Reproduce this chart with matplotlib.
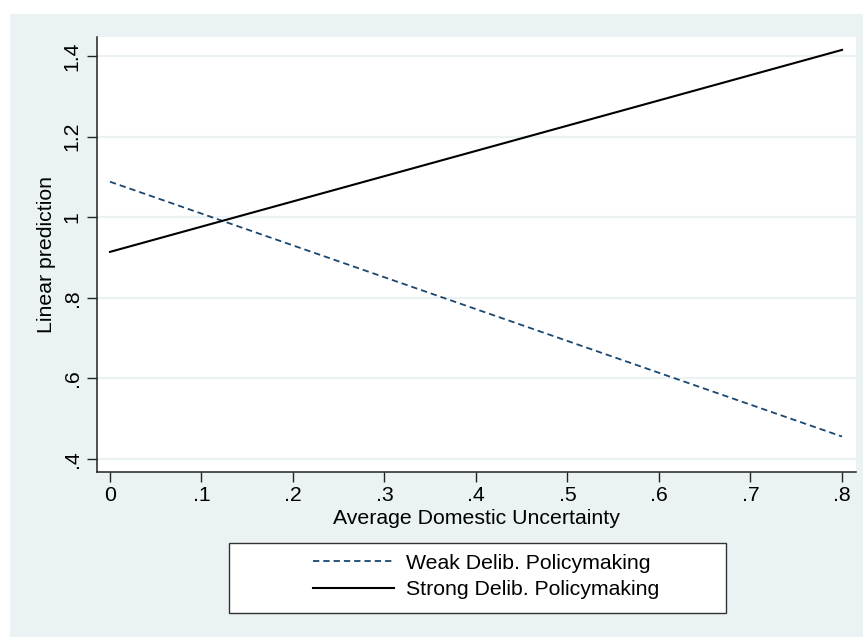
import matplotlib
matplotlib.use("Agg")
import matplotlib.pyplot as plt
from matplotlib.patches import Rectangle

plt.rcParams['font.family'] = ['Liberation Sans', 'DejaVu Sans']

# data (straight linear predictions)
x_vals = [0.0, 0.8]
weak_vals = [1.088, 0.456]
strong_vals = [0.914, 1.415]
series_labels = ["Weak Delib. Policymaking", "Strong Delib. Policymaking"]
x_ticks = [0, 0.1, 0.2, 0.3, 0.4, 0.5, 0.6, 0.7, 0.8]
x_ticklabels = ["0", ".1", ".2", ".3", ".4", ".5", ".6", ".7", ".8"]
y_ticks = [0.4, 0.6, 0.8, 1.0, 1.2, 1.4]
y_ticklabels = [".4", ".6", ".8", "1", "1.2", "1.4"]

bg = '#eaf2f3'
navy = '#1a476f'
fs = 15.3

fig = plt.figure(figsize=(8.63, 6.37), dpi=100)
fig.patch.set_facecolor('white')
# stata style outer region
fig.patches.append(Rectangle((10/863, 0), 853/863, 623/637, transform=fig.transFigure,
                             facecolor=bg, edgecolor='none', zorder=-10))

ax = fig.add_axes([97/863, 165/637, 759/863, 435/637])
ax.set_zorder(1)
ax.set_facecolor('white')

ax.plot(x_vals, weak_vals, color=navy, lw=1.3, dashes=(3.5, 2.2), label=series_labels[0])
ax.plot(x_vals, strong_vals, color='black', lw=1.5, label=series_labels[1])

ax.set_xlim(-0.0142, 0.8153)
ax.set_ylim(0.368, 1.447)
ax.set_xticks(x_ticks)
ax.set_xticklabels(x_ticklabels)
ax.set_yticks(y_ticks)
ax.set_yticklabels(y_ticklabels, rotation=90, va='center')
ax.tick_params(axis='both', labelsize=fs, length=7, width=1, color='#222222')
ax.tick_params(axis='x', pad=3)
ax.tick_params(axis='y', pad=4)

ax.grid(axis='y', color=bg, lw=1.6)
ax.set_axisbelow(True)
for s in ['top', 'right']:
    ax.spines[s].set_visible(False)
for s in ['left', 'bottom']:
    ax.spines[s].set_linewidth(1.1)
    ax.spines[s].set_color('#222222')

ax.set_xlabel("Average Domestic Uncertainty", fontsize=fs)
ax.xaxis.set_label_coords(0.5, -0.108)
ax.xaxis.label.set_va('center')
ax.set_ylabel("Linear prediction", fontsize=fs)
ax.yaxis.set_label_coords(-0.066, 0.5)
ax.yaxis.label.set_va('center')

# legend box
fig.patches.append(Rectangle((229/863, 24/637), 497/863, 70/637, transform=fig.transFigure,
                             facecolor='white', edgecolor='#333333', lw=1.0, zorder=1))
leg = fig.legend(loc='center', bbox_to_anchor=(486/863, 60.5/637), frameon=False,
                 fontsize=fs, handlelength=3.8, handletextpad=0.55, labelspacing=0.35,
                 borderpad=0)
leg.set_zorder(2)

fig.savefig("out.png", dpi=100, facecolor=fig.get_facecolor())
